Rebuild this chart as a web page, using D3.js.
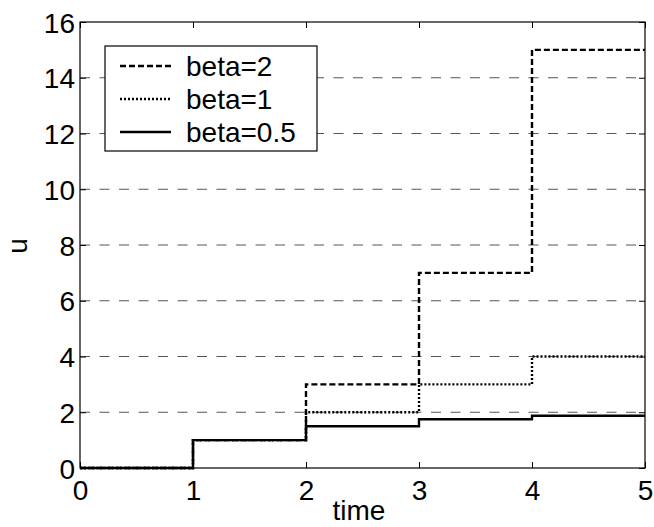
<!DOCTYPE html>
<html>
<head>
<meta charset="utf-8">
<script src="https://cdn.jsdelivr.net/npm/d3@7"></script>
<style>
  body { margin: 0; background: #fff; }
  text { font-family: "Liberation Sans", Arial, Helvetica, sans-serif; fill: #000; }
</style>
</head>
<body>
<svg id="chart" width="654" height="527"></svg>
<script>
// Step response values u(t) for each beta, held constant on [k, k+1)
const times = [0, 1, 2, 3, 4, 5];
const betaTwo = [0, 1, 3, 7, 15];
const betaOne = [0, 1, 2, 3, 4];
const betaHalf = [0, 1, 1.5, 1.75, 1.875];
const seriesNames = ["beta=2", "beta=1", "beta=0.5"];
const xTicks = [0, 1, 2, 3, 4, 5];
const yTicks = [0, 2, 4, 6, 8, 10, 12, 14, 16];

const margin = { left: 80, top: 22, right: 9, bottom: 59 };
const W = 654, H = 527;
const svg = d3.select("#chart");

const x = d3.scaleLinear().domain([0, 5]).range([margin.left, W - margin.right]);
const y = d3.scaleLinear().domain([0, 16]).range([H - margin.bottom, margin.top]);

// horizontal dashed grid
svg.append("g").selectAll("line").data(yTicks.filter(d => d > 0 && d < 16)).join("line")
  .attr("x1", x(0)).attr("x2", x(5))
  .attr("y1", d => y(d)).attr("y2", d => y(d))
  .attr("stroke", "#555").attr("stroke-width", 1)
  .attr("stroke-dasharray", "10,9.5");

// step series
const styles = [
  { data: betaTwo, dash: "6,3" },
  { data: betaOne, dash: "2,2" },
  { data: betaHalf, dash: null }
];
const stepLine = d3.line().x(d => x(d[0])).y(d => y(d[1])).curve(d3.curveStepAfter);
styles.forEach(s => {
  const pts = times.map((t, i) => [t, s.data[Math.min(i, s.data.length - 1)]]);
  svg.append("path").datum(pts)
    .attr("d", stepLine)
    .attr("fill", "none").attr("stroke", "#000").attr("stroke-width", 2.4)
    .attr("stroke-dasharray", s.dash);
});

// axes frame with inward ticks on all sides
const tickLen = 6;
const fs = 28;
svg.append("g").attr("transform", `translate(0,${y(0)})`)
  .call(d3.axisBottom(x).tickValues(xTicks).tickSize(-tickLen).tickFormat(d3.format("d")))
  .call(g => g.select(".domain").remove())
  .call(g => g.selectAll("text").attr("font-size", fs).attr("y", 32).attr("dy", null));
svg.append("g").attr("transform", `translate(0,${y(16)})`)
  .call(d3.axisTop(x).tickValues(xTicks).tickSize(-tickLen).tickFormat(""))
  .call(g => g.select(".domain").remove());
svg.append("g").attr("transform", `translate(${x(0)},0)`)
  .call(d3.axisLeft(y).tickValues(yTicks).tickSize(-tickLen).tickPadding(5).tickFormat(d3.format("d")))
  .call(g => g.select(".domain").remove())
  .call(g => g.selectAll("text").attr("font-size", fs).attr("dy", "0.36em"));
svg.append("g").attr("transform", `translate(${x(5)},0)`)
  .call(d3.axisRight(y).tickValues(yTicks).tickSize(-tickLen).tickFormat(""))
  .call(g => g.select(".domain").remove());
svg.selectAll(".tick line").attr("stroke", "#000");
svg.selectAll(".tick text").attr("font-family", "Liberation Sans, Arial, sans-serif").attr("fill", "#000");

svg.append("rect")
  .attr("x", x(0)).attr("y", y(16))
  .attr("width", x(5) - x(0)).attr("height", y(0) - y(16))
  .attr("fill", "none").attr("stroke", "#000").attr("stroke-width", 1.2);

// axis titles
svg.append("text").attr("x", 359).attr("y", 520)
  .attr("text-anchor", "middle").attr("font-size", fs).text("time");
svg.append("text").attr("transform", `translate(27,246) rotate(-90)`)
  .attr("text-anchor", "middle").attr("font-size", fs).text("u");

// legend
const lg = svg.append("g");
lg.append("rect").attr("x", 105).attr("y", 46).attr("width", 212).attr("height", 105)
  .attr("fill", "#fff").attr("stroke", "#000").attr("stroke-width", 1.2);
seriesNames.forEach((name, i) => {
  const cy = 66 + i * 33;
  lg.append("line").attr("x1", 120).attr("x2", 171).attr("y1", cy).attr("y2", cy)
    .attr("stroke", "#000").attr("stroke-width", 2.4)
    .attr("stroke-dasharray", styles[i].dash);
  lg.append("text").attr("x", 186).attr("y", cy + 10).attr("font-size", fs).text(name);
});
</script>
</body>
</html>
